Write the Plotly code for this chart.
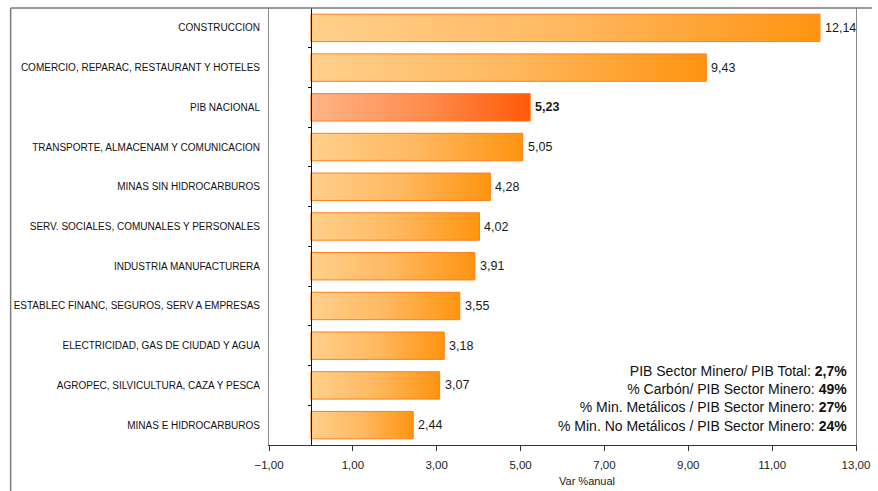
import plotly.graph_objects as go

categories = [
    "CONSTRUCCION",
    "COMERCIO, REPARAC, RESTAURANT Y HOTELES",
    "PIB NACIONAL",
    "TRANSPORTE, ALMACENAM Y COMUNICACION",
    "MINAS SIN HIDROCARBUROS",
    "SERV. SOCIALES, COMUNALES Y PERSONALES",
    "INDUSTRIA MANUFACTURERA",
    "ESTABLEC FINANC, SEGUROS, SERV A EMPRESAS",
    "ELECTRICIDAD, GAS DE CIUDAD Y AGUA",
    "AGROPEC, SILVICULTURA, CAZA Y PESCA",
    "MINAS E HIDROCARBUROS",
]
values = [12.14, 9.43, 5.23, 5.05, 4.28, 4.02, 3.91, 3.55, 3.18, 3.07, 2.44]
highlight = "PIB NACIONAL"
x_ticks = [-1, 1, 3, 5, 7, 9, 11, 13]
info_lines = [
    ("PIB Sector Minero/ PIB Total: ", "2,7%"),
    ("% Carbón/ PIB Sector Minero: ", "49%"),
    ("% Min. Metálicos / PIB Sector Minero: ", "27%"),
    ("% Min. No Metálicos / PIB Sector Minero: ", "24%"),
]

W, H = 878, 491
ML, MR, MT, MB = 269, 16, 8, 46
PW, PH = W - ML - MR, H - MT - MB

def px_x(p):
    return (p - ML) / PW

def px_y(p):
    return (H - MB - p) / PH

half = 0.345
fig = go.Figure()
for i, (cat, v) in enumerate(zip(categories, values)):
    if cat == highlight:
        cs = [[0, "#FFB488"], [0.5, "#FF8E50"], [1, "#FF5A08"]]
    else:
        cs = [[0, "#FFD08C"], [0.5, "#FFB860"], [1, "#FF9410"]]
    fig.add_trace(go.Scatter(
        x=[0, v, v, 0, 0],
        y=[i - half, i - half, i + half, i + half, i - half],
        mode="lines",
        fill="toself",
        fillgradient=dict(type="horizontal", colorscale=cs),
        line=dict(color="#FF7F1E", width=1),
        hoverinfo="skip",
        showlegend=False,
    ))
    label = f"{v:.2f}".replace(".", ",")
    fig.add_annotation(
        x=v, y=i, xref="x", yref="y",
        text=f"<b>{label}</b>" if cat == highlight else label,
        showarrow=False, xanchor="left", xshift=3,
        font=dict(family="Liberation Sans, Arial", size=12.5, color="#1a1a1a"),
    )

# Zero-line axis with small ticks between categories
fig.add_trace(go.Scatter(x=[0], y=[0], yaxis="y2", mode="markers",
                         marker=dict(opacity=0), hoverinfo="skip", showlegend=False))

fig.update_layout(
    width=W, height=H,
    margin=dict(l=ML, r=MR, t=MT, b=MB),
    paper_bgcolor="white", plot_bgcolor="white",
    separators=",.",
    xaxis=dict(
        range=[-1, 13], tickvals=x_ticks, tickformat=".2f",
        showgrid=False, zeroline=False,
        showline=True, linecolor="#333333", linewidth=1,
        ticks="outside", ticklen=5, tickcolor="#333333",
        ticklabelstandoff=4,
        tickfont=dict(family="Liberation Sans, Arial", size=11.5, color="#222222"),
    ),
    yaxis=dict(
        range=[len(categories) - 0.5, -0.5],
        tickvals=list(range(len(categories))), ticktext=categories,
        showgrid=False, zeroline=False,
        showline=True, linecolor="#8a8a8a", linewidth=1, mirror=True,
        ticks="", ticklabelstandoff=6,
        tickfont=dict(family="Liberation Sans, Arial", size=10, color="#111111"),
    ),
    yaxis2=dict(
        overlaying="y", anchor="free", position=1 / 14,
        range=[len(categories) - 0.5, -0.5],
        tickvals=[i + 0.5 for i in range(len(categories) - 1)],
        showticklabels=False, showgrid=False, zeroline=False,
        showline=True, linecolor="#111111", linewidth=1,
        ticks="outside", ticklen=3, tickcolor="#111111",
    ),
)

# Outer frame lines
fig.add_shape(type="line", xref="paper", yref="paper",
              x0=px_x(8), x1=px_x(W), y0=px_y(8), y1=px_y(8),
              line=dict(color="#7a7a7a", width=1.5))
fig.add_shape(type="line", xref="paper", yref="paper",
              x0=px_x(8), x1=px_x(8), y0=px_y(8), y1=px_y(H),
              line=dict(color="#7a7a7a", width=1.5))

info_text = "<br>".join(f"{a}<b>{b}</b>" for a, b in info_lines)
fig.add_annotation(
    x=px_x(855), y=px_y(436), xref="paper", yref="paper",
    text=info_text, showarrow=False, xanchor="right", yanchor="bottom", align="right",
    font=dict(family="Liberation Sans, Arial", size=14, color="#111111"),
)
fig.add_annotation(
    x=px_x(590), y=px_y(481), xref="paper", yref="paper",
    text="Var %anual", showarrow=False, xanchor="center", yanchor="middle",
    font=dict(family="Liberation Sans, Arial", size=11, color="#222222"),
)

fig.write_html("out.html")
